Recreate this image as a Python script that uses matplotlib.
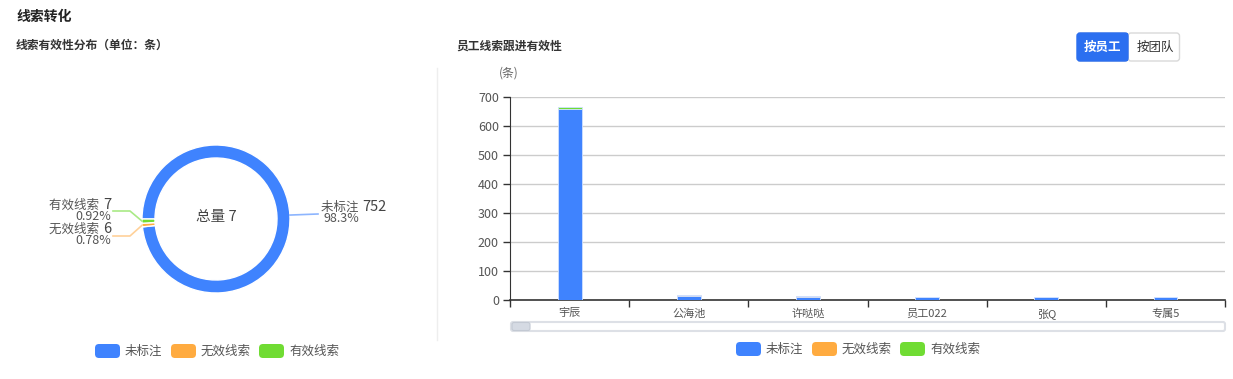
import numpy as np
import matplotlib
matplotlib.use("Agg")
import matplotlib.pyplot as plt
from matplotlib.patches import FancyBboxPatch, Rectangle

plt.rcParams['font.family'] = ['Noto Sans CJK SC', 'DejaVu Sans']

# data
pie_names = ['未标注', '无效线索', '有效线索']
pie_values = [752, 6, 7]
pie_colors = ['#3f83fe', '#ffab40', '#70dc33']
total_label = '总量 7'

staff = ['宇辰', '公海池', '许哒哒', '员工022', '张Q', '专属5']
unmarked = [658, 15, 12, 11, 9, 9]
invalid = [1, 2, 1, 0, 0, 0]
valid = [6, 0, 0, 0, 0, 0]
yticks = [0, 100, 200, 300, 400, 500, 600, 700]

W, H = 1233, 379
fig = plt.figure(figsize=(W / 100, H / 100), dpi=100)


def box(l, t, r, b):
    # pixel box (top-left origin) -> figure fraction rect
    return [l / W, 1 - b / H, (r - l) / W, (b - t) / H]


# overlay for titles, legends, decorations (pixel coordinates)
ov = fig.add_axes([0, 0, 1, 1])
ov.set_xlim(0, W)
ov.set_ylim(H, 0)
ov.axis('off')

ov.text(16, 17, '线索转化', fontsize=10, fontweight='bold', color='#222', va='center')
ov.text(16, 45, '线索有效性分布（单位：条）', fontsize=8.5, fontweight='bold', color='#333', va='center')
ov.text(456, 46, '员工线索跟进有效性', fontsize=8.5, fontweight='bold', color='#333', va='center')
ov.text(499, 73, '(条)', fontsize=8.5, color='#666', va='center')

# divider
ov.plot([437, 437], [68, 340], color='#eeeeee', lw=1)

# toggle buttons
ov.add_patch(FancyBboxPatch((1077.5, 33), 51, 28, boxstyle='round,pad=0,rounding_size=3',
                            fc='#ffffff', ec='#d9d9d9', lw=1))
ov.add_patch(FancyBboxPatch((1128, 33), 51.5, 28, boxstyle='round,pad=0,rounding_size=3',
                            fc='#ffffff', ec='#d9d9d9', lw=1))
ov.add_patch(FancyBboxPatch((1077, 33), 51, 28, boxstyle='round,pad=0,rounding_size=3',
                            fc='#2b6ff0', ec='#2b6ff0', lw=1))
ov.add_patch(Rectangle((1120, 33), 8, 28, fc='#2b6ff0', ec='none'))
ov.text(1102.5, 47, '按员工', fontsize=9, fontweight='bold', color='white', ha='center', va='center')
ov.text(1155, 47, '按团队', fontsize=9, color='#333', ha='center', va='center')

# scrollbar under bar chart
ov.add_patch(FancyBboxPatch((511, 322), 714, 9, boxstyle='round,pad=0,rounding_size=2',
                            fc='#ffffff', ec='#dde0e6', lw=1.5))
ov.add_patch(FancyBboxPatch((512, 322.5), 18, 8, boxstyle='round,pad=0,rounding_size=2',
                            fc='#d5dae3', ec='#c3c9d3', lw=0.8))


def legend(x0, y, gaps):
    x = x0
    for name, col, gap in zip(pie_names, pie_colors, gaps):
        ov.add_patch(FancyBboxPatch((x, y - 7), 25, 14, boxstyle='round,pad=0,rounding_size=4',
                                    fc=col, ec='none'))
        ov.text(x + 30, y, name, fontsize=9, color='#555', va='center')
        x += gap


legend(95, 351, [76, 88, 0])
legend(736, 349, [76, 88, 0])

# donut
cx, cy, R = 216, 219, 74
pax = fig.add_axes(box(cx - 100, cy - 100, cx + 100, cy + 100))
wedges, _ = pax.pie(pie_values, colors=pie_colors, radius=R, startangle=180, counterclock=False,
                    wedgeprops=dict(width=13, edgecolor='white', linewidth=1))
pax.set_xlim(-100, 100)
pax.set_ylim(-100, 100)
pax.set_aspect('equal')
pax.axis('off')
pax.text(0, 2, total_label, fontsize=10.5, color='#444', ha='center', va='center')

total = sum(pie_values)
# label layout (pie-axis pixel offsets): elbow, end, text anchor
layout = {
    '未标注': dict(elbow=None, end=(102, 5), tx=105, ty=12, side='left'),
    '无效线索': dict(elbow=(-86, -17), end=(-103, -17), tx=-105, ty=-10, side='right'),
    '有效线索': dict(elbow=(-86, 8), end=(-103, 8), tx=-105, ty=14, side='right'),
}
line_colors = {'未标注': '#8db5fe', '无效线索': '#ffd199', '有效线索': '#a9ea85'}

fig.canvas.draw()
rend = fig.canvas.get_renderer()
for w, name, val in zip(wedges, pie_names, pie_values):
    mid = np.deg2rad((w.theta1 + w.theta2) / 2)
    sx, sy = R * np.cos(mid), R * np.sin(mid)
    L = layout[name]
    xs, ys = [sx], [sy]
    if L['elbow']:
        xs.append(L['elbow'][0]); ys.append(L['elbow'][1])
    xs.append(L['end'][0]); ys.append(L['end'][1])
    pax.plot(xs, ys, color=line_colors[name], lw=1.2, clip_on=False)
    pct = f'{val / total * 100:.2f}%' if val / total < 0.1 else f'{val / total * 100:.1f}%'
    if L['side'] == 'right':
        t_num = pax.text(L['tx'], L['ty'], str(val), fontsize=10.5, color='#444',
                         ha='right', va='center', clip_on=False)
        bb = t_num.get_window_extent(rend)
        pax.text(L['tx'] - bb.width - 1, L['ty'], name + ' ', fontsize=9, color='#555',
                 ha='right', va='center', clip_on=False)
        pax.text(L['tx'], L['ty'] - 12, pct, fontsize=9, color='#555',
                 ha='right', va='center', clip_on=False)
    else:
        t_name = pax.text(L['tx'], L['ty'], name + ' ', fontsize=9, color='#555',
                          ha='left', va='center', clip_on=False)
        bb = t_name.get_window_extent(rend)
        pax.text(L['tx'] + bb.width + 1, L['ty'], str(val), fontsize=10.5, color='#444',
                 ha='left', va='center', clip_on=False)
        pax.text(L['tx'] + 3, L['ty'] - 12, pct, fontsize=9, color='#555',
                 ha='left', va='center', clip_on=False)

# stacked bars
bax = fig.add_axes(box(510, 97, 1225, 300))
x = np.arange(len(staff))
bw = 0.2
bot = np.zeros(len(staff))
for vals, col in zip([unmarked, invalid, valid], pie_colors):
    vals = np.array(vals, dtype=float)
    bax.bar(x, vals, bw, bottom=bot, color=col, edgecolor='#cfe0ff', linewidth=0.6, zorder=3)
    bot += vals

bax.set_xlim(-0.5, len(staff) - 0.5)
bax.set_ylim(0, 700)
bax.set_yticks(yticks)
bax.set_yticklabels([str(v) for v in yticks], fontsize=9, color='#555')
bax.grid(axis='y', color='#cccccc', lw=1, zorder=0)
bax.set_xticks(np.arange(len(staff) + 1) - 0.5)
bax.set_xticklabels([])
bax.set_xticks(x, minor=True)
bax.set_xticklabels(staff, minor=True, fontsize=8, color='#555')
bax.tick_params(axis='x', which='major', length=5, color='#333', width=1)
bax.tick_params(axis='x', which='minor', length=0, pad=6)
bax.tick_params(axis='y', length=5, color='#333', width=1, pad=3)
for s in ['top', 'right']:
    bax.spines[s].set_visible(False)
bax.spines['left'].set_color('#333')
bax.spines['bottom'].set_color('#333')
bax.spines['bottom'].set_linewidth(1.2)

fig.savefig('out.png', dpi=100)
